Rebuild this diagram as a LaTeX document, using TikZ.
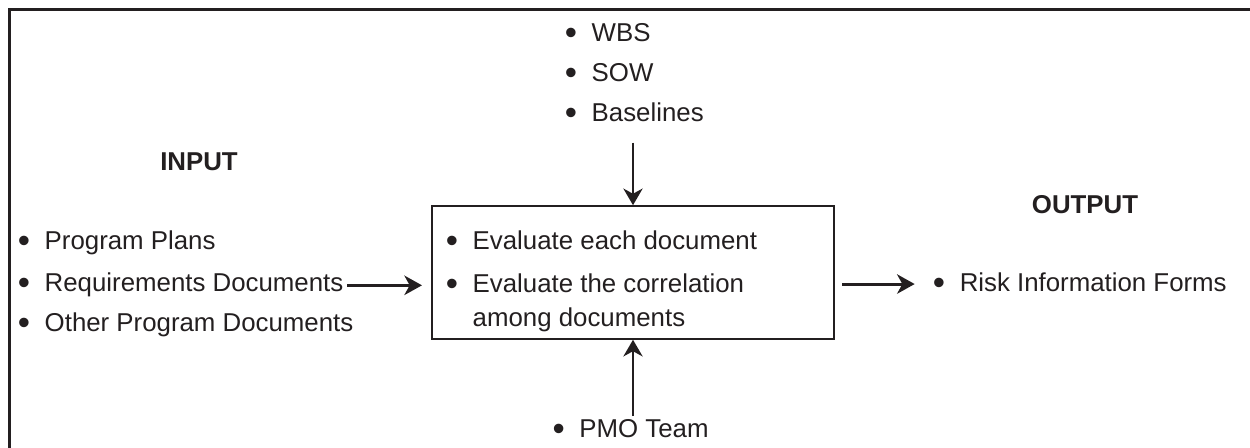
\documentclass[tikz,border=0pt]{standalone}
\usepackage{fontspec}
\setmainfont{Liberation Sans}
\usetikzlibrary{arrows.meta,positioning}
\definecolor{ink}{RGB}{35,31,32}
\newcommand{\dotmark}{\raisebox{-1.6pt}{\scalebox{1.35}{\textbullet}}}
\newcommand{\bul}{\hspace{-2.8pt}\dotmark\hspace{8.3pt}}
\tikzstyle{item} = [anchor=base west, inner sep=2pt, text=ink,
    font=\fontsize{14.7}{19.3}\selectfont]
\tikzstyle{head} = [text=ink, font=\fontsize{14.7}{19.3}\selectfont\bfseries]
\tikzstyle{block} = [rectangle, draw=ink, line width=1.2pt,
    minimum width=229pt, minimum height=75.4pt]
\tikzstyle{line} = [draw=ink, line width=1.7pt, -{Stealth[length=10pt,width=11pt,inset=3pt]}]
\tikzstyle{vline} = [draw=ink, line width=1pt, -{Stealth[length=9.5pt,width=11pt,inset=3pt]}]
\tikzstyle{frame} = [draw=ink, line width=1.6pt]

\begin{document}
\begin{tikzpicture}[x=0.02cm, y=-0.02cm]
		\useasboundingbox (0,0) rectangle (1250,448);
		\draw [frame] (9.5,450) -- (9.5,9.5) -- (1252,9.5);

		\node [head] (input) at (199,162) {INPUT};
		\node [head] (output) at (1085,205) {OUTPUT};

		\node [block] (eval) at (633,272.5) {};
		\node [item] (evaltxt) at (447,250) {\begin{tabular}[t]{@{\hspace{-2.8pt}}l@{\hspace{8.3pt}}l@{}}
			\dotmark & Evaluate each document\\[5pt]
			\dotmark & Evaluate the correlation\\
			 & among documents
		\end{tabular}};

		\node [item] (wbs) at (566,42) {\bul WBS};
		\node [item] (sow) at (566,82) {\bul SOW};
		\node [item] (base) at (566,122) {\bul Baselines};

		\node [item] (plan) at (19,250) {\bul Program Plans};
		\node [item] (req) at (19,292) {\bul Requirements Documents};
		\node [item] (other) at (19,332) {\bul Other Program Documents};

		\node [item] (risk) at (934,292) {\bul Risk Information Forms};
		\node [item, anchor=base] (pmo) at (633,438) {\bul PMO Team};

		\path [line, shorten >=5pt] (req.east) -- (req.east -| eval.west);
		\path [line, shorten <=4pt, shorten >=11pt] (eval.east |- risk.west) -- (risk.west);
		\path [vline, shorten <=8pt] (eval.north |- base.south) -- (eval.north);
		\path [vline] (pmo.north) -- (eval.south);
	\end{tikzpicture}
\end{document}
